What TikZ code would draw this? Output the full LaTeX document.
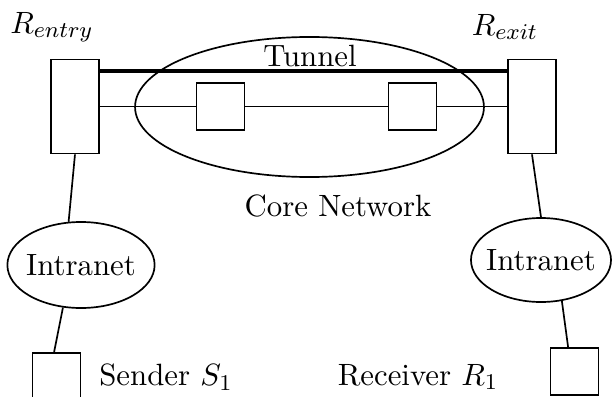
\documentclass[tikz,border=0pt]{standalone}
\usepackage{amsmath,amssymb}
\usepackage{tikz}
\usetikzlibrary{shapes.geometric}

\tikzset{
  router/.style={draw, line width=0.6pt, minimum width=0.6cm,
                 minimum height=1.175cm, inner sep=0cm},
  hostbox/.style={draw, line width=0.6pt, minimum width=0.6cm,
                  minimum height=0.59cm, inner sep=0cm},
  cloud/.style={draw, ellipse, line width=0.6pt, inner sep=0cm, inner xsep=-3pt},
  link/.style={line width=0.6pt},
  tunnel/.style={line width=1.4pt},
}

\begin{document}
\begin{tikzpicture}[x=0.0125cm, y=-0.0125cm, font=\fontsize{10.95}{13}\selectfont]
\useasboundingbox (0,0) rectangle (612,397);

% routers at the edge of the core
\node[router] (rentry) at (75,106.5) {};
\node[router] (rexit) at (532,106.5) {};
\node (rentrylbl) at (52,27) {$R_{entry}$};
\node (rexitlbl) at (505,27) {$R_{exit}$};

% core network
\node[cloud, minimum width=4.36cm, minimum height=1.75cm] (core) at (309.5,107) {};
\node[hostbox] (core1) at (220.5,106.5) {};
\node[hostbox] (core2) at (412.5,106.5) {};
\node (tunnellbl) at (310,56) {Tunnel};
\node (corelbl) at (338,206) {Core Network};

\draw[link] (rentry.east) -- (core1.west);
\draw[link] (core1.east) -- (core2.west);
\draw[link] (core2.east) -- (rexit.west);
\draw[tunnel] ([yshift=-0.15cm]rentry.north east) -- ([yshift=-0.15cm]rexit.north west);

% intranets and end hosts
\node[cloud, minimum width=1.84cm, minimum height=1.075cm] (lintra) at (81,265) {Intranet};
\node[cloud, minimum width=1.75cm, minimum height=1.05cm] (rintra) at (541,260) {Intranet};
\node[hostbox] (sender) at (56.5,376.5) {};
\node[hostbox] (receiver) at (574.5,371.5) {};
\node (senderlbl) at (166,377) {Sender $S_1$};
\node (receiverlbl) at (418,377) {Receiver $R_1$};

\draw[link] (rentry.south) -- (lintra.106);
\draw[link] (lintra.-113) -- ([xshift=-0.03cm]sender.north);
\draw[link] (rexit.south) -- (rintra.north);
\draw[link] (rintra.-63) -- ([xshift=-0.08cm]receiver.north);
\end{tikzpicture}
\end{document}
